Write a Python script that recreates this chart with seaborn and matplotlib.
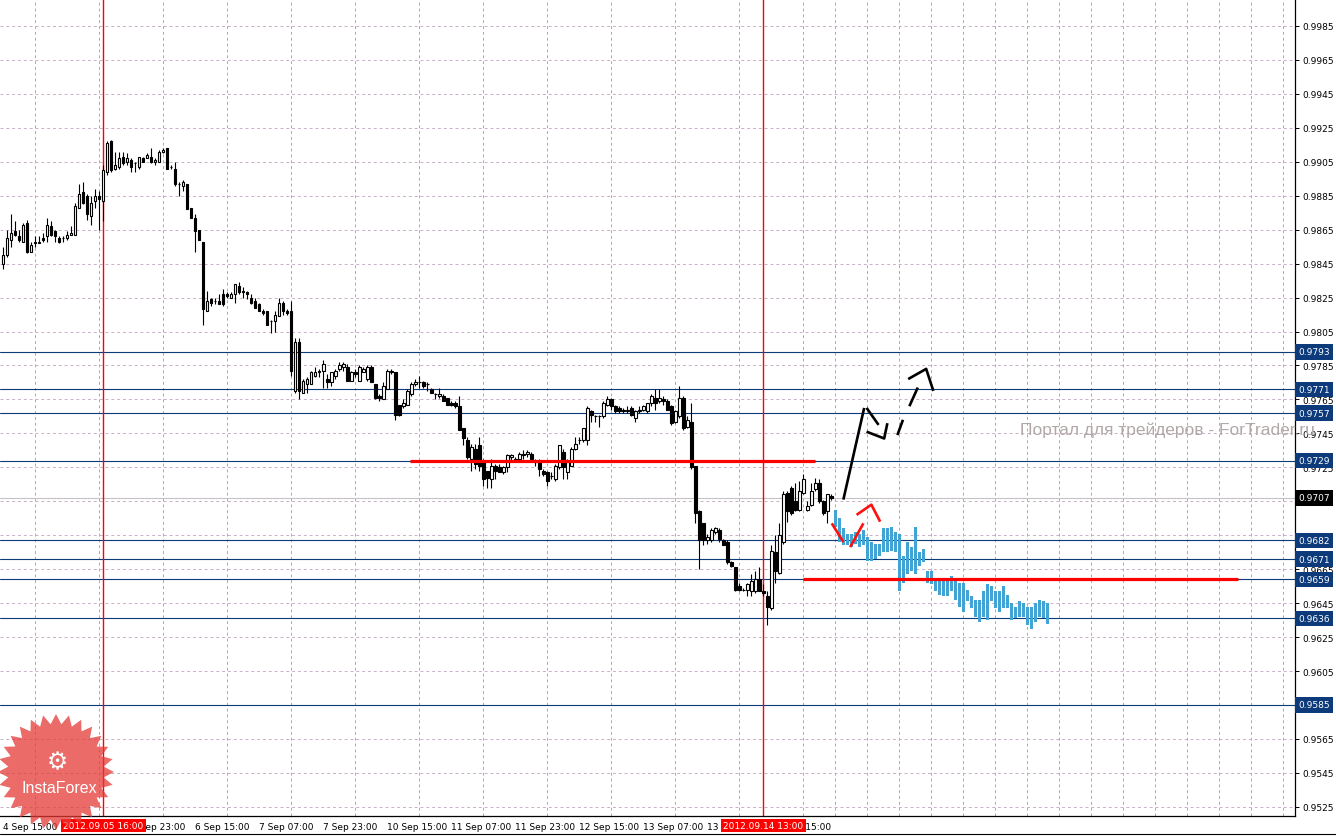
import numpy as np
import pandas as pd
import matplotlib
matplotlib.use("Agg")
import matplotlib.pyplot as plt
import matplotlib.transforms as mtransforms
from matplotlib.patches import Polygon
import seaborn as sns

# USDCHF H1 candles, bar 0 = 4 Sep 15:00
opens = [
    .9845, .9850, .9859, .9864, .9861, .9858, .9869, .9852, .9857, .9857,
    .9860, .9861, .9867, .9864, .9860, .9860, .9860, .9862, .9862, .9878,
    .9887, .9885, .9873, .9882, .9885, .9882, .9899, .9917, .9901, .9902,
    .9908, .9905, .9906, .9904, .9902, .9907, .9907, .9908, .9905, .9905,
    .9911, .9913, .9902, .9901, .9892, .9891, .9892, .9878, .9872, .9865,
    .9858, .9817, .9824, .9823, .9823, .9827, .9827, .9825, .9827, .9832,
    .9829, .9828, .9825, .9823, .9821, .9817, .9817, .9811, .9811, .9814,
    .9822, .9817, .9817, .9770, .9799, .9769, .9774, .9774, .9779, .9781,
    .9782, .9777, .9775, .9779, .9783, .9784, .9784, .9776, .9781, .9776,
    .9781, .9777, .9784, .9774, .9767, .9765, .9771, .9781, .9781, .9762,
    .9761, .9762, .9768, .9774, .9775, .9775, .9774, .9771, .9768, .9767,
    .9767, .9766, .9763, .9763, .9761, .9748, .9741, .9730, .9736, .9738,
    .9729, .9723, .9718, .9726, .9725, .9722, .9725, .9731, .9730, .9730,
    .9733, .9733, .9733, .9728, .9728, .9723, .9722, .9720, .9718, .9725,
    .9734, .9722, .9726, .9736, .9741, .9741, .9741, .9758, .9755, .9755,
    .9755, .9762, .9765, .9761, .9760, .9759, .9758, .9760, .9754, .9758,
    .9759, .9758, .9763, .9766, .9764, .9765, .9764, .9761, .9752, .9755,
    .9766, .9749, .9752, .9726, .9699, .9692, .9682, .9682, .9687, .9688,
    .9682, .9681, .9669, .9666, .9655, .9653, .9653, .9652, .9652, .9659,
    .9652, .9649, .9642, .9675, .9663, .9681, .9710, .9713, .9705, .9700,
    .9710, .9700, .9703, .9712, .9716, .9705, .9699, .9708,
]
highs = [
    .9855, .9865, .9874, .9870, .9865, .9869, .9871, .9858, .9861, .9861,
    .9863, .9872, .9870, .9865, .9861, .9861, .9864, .9867, .9881, .9892,
    .9893, .9886, .9885, .9889, .9888, .9903, .9917, .9918, .9911, .9911,
    .9911, .9910, .9907, .9905, .9908, .9908, .9910, .9913, .9907, .9912,
    .9913, .9913, .9903, .9905, .9893, .9894, .9892, .9878, .9874, .9865,
    .9858, .9829, .9825, .9825, .9827, .9830, .9828, .9828, .9833, .9834,
    .9831, .9829, .9827, .9825, .9822, .9818, .9817, .9812, .9817, .9825,
    .9823, .9818, .9823, .9801, .9801, .9777, .9778, .9782, .9784, .9783,
    .9788, .9780, .9781, .9783, .9787, .9787, .9786, .9782, .9783, .9785,
    .9784, .9785, .9785, .9774, .9768, .9775, .9783, .9783, .9781, .9762,
    .9765, .9771, .9775, .9777, .9779, .9776, .9775, .9772, .9769, .9772,
    .9768, .9766, .9764, .9764, .9767, .9748, .9743, .9739, .9739, .9743,
    .9730, .9723, .9730, .9727, .9727, .9726, .9733, .9733, .9731, .9734,
    .9735, .9735, .9734, .9730, .9730, .9724, .9723, .9722, .9727, .9738,
    .9736, .9730, .9737, .9743, .9743, .9748, .9761, .9759, .9756, .9756,
    .9764, .9767, .9766, .9762, .9761, .9760, .9761, .9761, .9759, .9761,
    .9762, .9763, .9768, .9771, .9771, .9767, .9765, .9762, .9759, .9773,
    .9767, .9755, .9763, .9726, .9700, .9692, .9686, .9689, .9690, .9689,
    .9683, .9682, .9670, .9666, .9657, .9654, .9657, .9662, .9664, .9666,
    .9656, .9652, .9679, .9685, .9692, .9711, .9711, .9714, .9716, .9717,
    .9721, .9705, .9716, .9719, .9718, .9706, .9709, .9709,
]
lows = [
    .9842, .9849, .9855, .9861, .9858, .9858, .9851, .9852, .9855, .9857,
    .9858, .9858, .9861, .9858, .9857, .9858, .9859, .9862, .9862, .9878,
    .9880, .9871, .9868, .9878, .9865, .9870, .9897, .9899, .9900, .9901,
    .9903, .9903, .9899, .9899, .9901, .9905, .9907, .9904, .9903, .9905,
    .9910, .9901, .9901, .9891, .9885, .9888, .9877, .9872, .9852, .9859,
    .9809, .9817, .9820, .9821, .9821, .9820, .9825, .9825, .9822, .9827,
    .9825, .9824, .9821, .9819, .9817, .9815, .9809, .9804, .9805, .9814,
    .9815, .9815, .9779, .9769, .9765, .9769, .9769, .9774, .9778, .9778,
    .9772, .9772, .9773, .9777, .9782, .9782, .9776, .9776, .9778, .9776,
    .9781, .9776, .9775, .9765, .9764, .9765, .9771, .9780, .9753, .9755,
    .9760, .9762, .9767, .9773, .9772, .9772, .9770, .9769, .9765, .9766,
    .9764, .9762, .9761, .9760, .9747, .9738, .9730, .9723, .9724, .9723,
    .9714, .9713, .9713, .9718, .9722, .9721, .9722, .9729, .9728, .9729,
    .9730, .9731, .9729, .9726, .9720, .9720, .9714, .9718, .9717, .9724,
    .9718, .9718, .9726, .9735, .9739, .9740, .9738, .9752, .9752, .9749,
    .9754, .9761, .9759, .9757, .9757, .9757, .9757, .9755, .9752, .9757,
    .9758, .9757, .9761, .9759, .9763, .9762, .9759, .9750, .9751, .9754,
    .9747, .9748, .9724, .9692, .9665, .9679, .9680, .9681, .9686, .9681,
    .9679, .9668, .9666, .9652, .9652, .9652, .9649, .9649, .9651, .9652,
    .9649, .9632, .9641, .9657, .9662, .9680, .9693, .9697, .9699, .9699,
    .9709, .9699, .9702, .9711, .9704, .9697, .9692, .9706,
]
closes = [
    .9850, .9860, .9863, .9862, .9859, .9868, .9852, .9856, .9858, .9858,
    .9859, .9868, .9862, .9861, .9858, .9860, .9862, .9863, .9879, .9886,
    .9881, .9874, .9881, .9885, .9883, .9900, .9916, .9900, .9903, .9907,
    .9904, .9907, .9902, .9904, .9908, .9905, .9909, .9905, .9906, .9911,
    .9912, .9901, .9902, .9892, .9892, .9893, .9877, .9872, .9864, .9859,
    .9818, .9823, .9822, .9823, .9821, .9821, .9826, .9827, .9833, .9828,
    .9828, .9827, .9822, .9819, .9817, .9816, .9809, .9811, .9815, .9822,
    .9817, .9816, .9782, .9799, .9770, .9776, .9777, .9781, .9781, .9782,
    .9786, .9775, .9781, .9782, .9785, .9786, .9776, .9781, .9780, .9784,
    .9783, .9784, .9775, .9766, .9766, .9773, .9782, .9782, .9756, .9756,
    .9763, .9770, .9774, .9775, .9775, .9773, .9774, .9769, .9768, .9768,
    .9764, .9762, .9762, .9761, .9747, .9742, .9731, .9737, .9727, .9726,
    .9718, .9719, .9726, .9723, .9722, .9725, .9732, .9732, .9729, .9733,
    .9732, .9734, .9730, .9728, .9724, .9721, .9717, .9720, .9726, .9738,
    .9725, .9728, .9736, .9739, .9741, .9748, .9760, .9756, .9755, .9755,
    .9763, .9765, .9761, .9758, .9758, .9758, .9759, .9756, .9758, .9759,
    .9761, .9763, .9767, .9763, .9766, .9764, .9759, .9751, .9758, .9766,
    .9748, .9753, .9725, .9698, .9682, .9682, .9684, .9688, .9689, .9683,
    .9679, .9669, .9667, .9653, .9653, .9653, .9656, .9658, .9659, .9652,
    .9651, .9643, .9676, .9664, .9685, .9709, .9699, .9698, .9700, .9711,
    .9718, .9702, .9711, .9716, .9705, .9698, .9709, .9707,
]

# forecast histogram (bars after the last candle)
fc_hi = [
    .9700, .9695, .9689, .9686, .9686, .9687, .9686, .9688, .9684, .9681,
    .9680, .9680, .9689, .9689, .9690, .9687, .9686, .9673, .9681, .9678,
    .9690, .9675, .9677, .9664, .9664, .9660, .9660, .9659, .9660, .9661,
    .9659, .9657, .9657, .9653, .9649, .9647, .9647, .9652, .9656, .9655,
    .9652, .9652, .9655, .9650, .9645, .9643, .9646, .9645, .9643, .9643,
    .9645, .9647, .9646, .9645,
]
fc_lo = [
    .9690, .9681, .9679, .9679, .9678, .9680, .9678, .9679, .9670, .9670,
    .9671, .9673, .9675, .9675, .9676, .9675, .9652, .9657, .9662, .9664,
    .9662, .9667, .9669, .9657, .9656, .9652, .9650, .9649, .9649, .9652,
    .9647, .9643, .9640, .9646, .9642, .9637, .9634, .9637, .9635, .9646,
    .9642, .9640, .9642, .9642, .9635, .9636, .9637, .9637, .9632, .9630,
    .9634, .9637, .9636, .9633,
]

levels = [0.9793, 0.9771, 0.9757, 0.9729, 0.9682, 0.9671, 0.9659, 0.9636, 0.9585]
bid = 0.9707

# red support/resistance segments: (from bar, to bar, price)
red_segments = [(101.7, 202.9, 0.9729), (199.9, 308.7, 0.9659)]

# hand drawn strokes (bar, price)
black_strokes = [
    [(210.0, 0.9706), (215.2, 0.9760)],
    [(215.8, 0.9760), (218.8, 0.9750)],
    [(215.8, 0.9746), (220.2, 0.9742), (221.0, 0.9751)],
    [(223.5, 0.9744), (224.9, 0.9753)],
    [(226.5, 0.9761), (228.6, 0.9772)],
    [(226.2, 0.9777), (230.7, 0.9783), (232.5, 0.9770)],
]
red_strokes = [
    [(207.1, 0.9692), (210.0, 0.9681)],
    [(211.7, 0.9678), (215.0, 0.9692)],
    [(213.3, 0.9697), (217.0, 0.9703), (219.2, 0.9693)],
]

time_labels = ["4 Sep 15:00", "5 Sep 07:00", "5 Sep 23:00", "6 Sep 15:00",
               "7 Sep 07:00", "7 Sep 23:00", "10 Sep 15:00", "11 Sep 07:00",
               "11 Sep 23:00", "12 Sep 15:00", "13 Sep 07:00", "13 Sep 23:00",
               "14 Sep 15:00"]
markers = [(25, "2012.09.05 16:00"), (190, "2012.09.14 13:00")]

sns.set_theme(style="white")
plt.rcParams['font.family'] = ['DejaVu Sans']

df = pd.DataFrame({"open": opens, "high": highs, "low": lows, "close": closes})
bull = df["close"] >= df["open"]
navy = "#0c3a7a"

W, H = 1336, 837
fig = plt.figure(figsize=(W / 100, H / 100), dpi=100)
fig.patch.set_facecolor("white")
ax = fig.add_axes([0, 20 / H, 1295 / W, 817 / H])
ax.set_facecolor("white")
ax.set_xlim(-0.83, 322.9)
ax.set_ylim(0.95196, 1.00009)

# grid
yt = np.round(np.arange(0.9525, 0.99851, 0.002), 4)
ax.set_yticks(yt)
ax.set_yticklabels([f"{v:.4f}" for v in yt])
ax.set_xticks(np.arange(0, 193, 16))
ax.set_xticklabels(time_labels, ha="left")
ax.set_xticks(np.arange(0, 323, 8), minor=True)
ax.yaxis.grid(True, color="#c8b0c8", ls=(0, (3, 3)), lw=0.7)
ax.xaxis.grid(True, which="minor", color="#aaaaaa", ls=(0, (3, 3)), lw=0.7)
ax.xaxis.grid(False, which="major")
ax.set_axisbelow(True)
ax.yaxis.tick_right()
ax.tick_params(axis="y", length=3, width=0.7, pad=2.5, labelsize=6.5, colors="black")
ax.tick_params(axis="x", which="major", length=3, width=0.7, pad=1, labelsize=6.5, colors="black")
ax.tick_params(axis="x", which="minor", length=0)
for s in ["left", "top"]:
    ax.spines[s].set_visible(False)
for s in ["right", "bottom"]:
    ax.spines[s].set_color("black")
    ax.spines[s].set_linewidth(0.9)

# level lines and labels
ty = mtransforms.blended_transform_factory(ax.transAxes, ax.transData)
for lv in levels:
    ax.axhline(lv, color=navy, lw=0.8, zorder=2)
    ax.text(1.0025, lv, f"{lv:.4f}", transform=ty, fontsize=6.5, color="white",
            va="center", ha="left", clip_on=False, zorder=20,
            bbox=dict(boxstyle="square,pad=0.35", fc=navy, ec="none"))
ax.axhline(bid, color="#c4c4c4", lw=0.8, zorder=2)
ax.text(1.0025, bid, f"{bid:.4f}", transform=ty, fontsize=6.5, color="white",
        va="center", ha="left", clip_on=False, zorder=20,
        bbox=dict(boxstyle="square,pad=0.35", fc="black", ec="none"))

# vertical time markers
tx = mtransforms.blended_transform_factory(ax.transData, ax.transAxes)
for bar, lab in markers:
    ax.axvline(bar, color="#ff0000", lw=1.0, zorder=2)
    ax.text(bar, -0.0115, lab, transform=tx, fontsize=6.5, color="white",
            ha="center", va="center", clip_on=False, zorder=20,
            bbox=dict(boxstyle="square,pad=0.25", fc="#ff0000", ec="none"))

# candles
ax.vlines(df.index, df["low"], df["high"], color="black", lw=0.8, zorder=3.5)
ax.bar(df.index[bull], (df["close"] - df["open"])[bull], bottom=df["open"][bull],
       width=0.58, color="white", edgecolor="black", lw=0.8, zorder=4)
ax.bar(df.index[~bull], (df["open"] - df["close"])[~bull], bottom=df["close"][~bull],
       width=0.58, color="black", edgecolor="black", lw=0.8, zorder=4)

# forecast histogram
xf = np.arange(len(df), len(df) + len(fc_hi))
ax.bar(xf, np.array(fc_hi) - np.array(fc_lo), bottom=fc_lo, width=0.75,
       color="#41a4d4", lw=0, zorder=3)

# red horizontal segments
for x0, x1, p in red_segments:
    ax.hlines(p, x0, x1, colors="#ff0000", lw=2.3, zorder=5)

for st in black_strokes:
    xs, ys = zip(*st)
    ax.plot(xs, ys, color="black", lw=1.9, solid_capstyle="butt", zorder=6)
for st in red_strokes:
    xs, ys = zip(*st)
    ax.plot(xs, ys, color="#ff1010", lw=1.9, solid_capstyle="butt", zorder=6)

# watermark
fig.text(1020 / W, 1 - 430 / H, "Портал для трейдеров - ForTrader.ru",
         color="#b3a8a8", fontsize=12.5, family="Liberation Sans",
         ha="left", va="center", zorder=30)

# logo
n = 28
ang = np.linspace(0, 2 * np.pi, 2 * n, endpoint=False) + np.pi / 2
rad = np.where(np.arange(2 * n) % 2 == 0, 58, 48)
px = 56 + rad * np.cos(ang)
py = 773 - rad * np.sin(ang)
fig.add_artist(Polygon(np.column_stack([px / W, 1 - py / H]), closed=True,
                       transform=fig.transFigure, fc="#e53935", ec="none",
                       alpha=0.75, zorder=40))
fig.text(57 / W, 1 - 762 / H, "\u2699", color="white", fontsize=17,
         ha="center", va="center", zorder=41)
fig.text(59 / W, 1 - 789 / H, "InstaForex", color="white", fontsize=11.5,
         family="Liberation Sans", ha="center", va="center", zorder=41)

fig.add_artist(plt.Line2D([0, 1], [2 / H, 2 / H], color="black", lw=0.8,
                          transform=fig.transFigure))

fig.savefig("out.png", dpi=100)
